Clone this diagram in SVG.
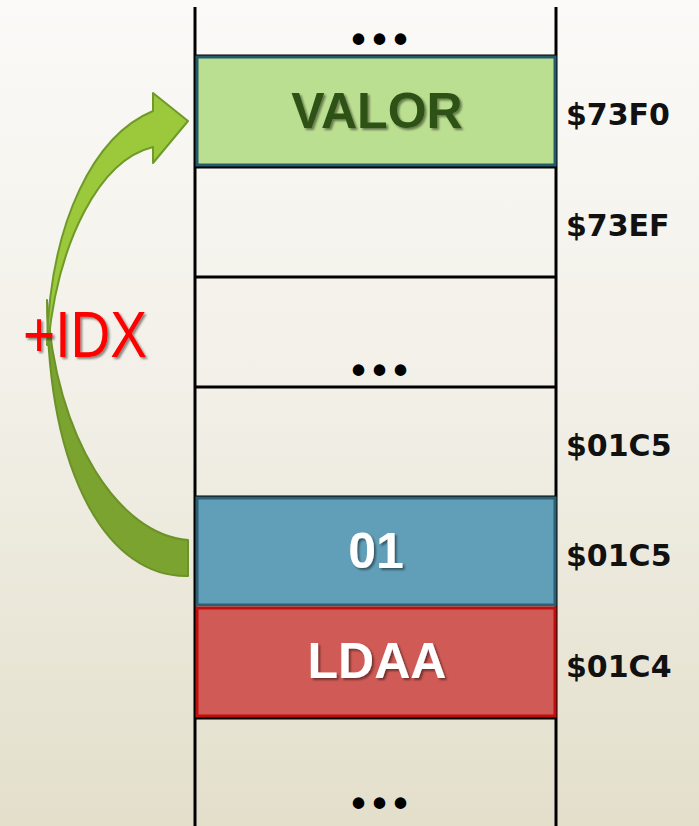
<svg xmlns="http://www.w3.org/2000/svg" width="699" height="826" viewBox="0 0 699 826">
  <defs>
    <linearGradient id="bg" x1="0" y1="0" x2="0" y2="1">
      <stop offset="0" stop-color="#fbfaf8"/>
      <stop offset="0.5" stop-color="#f1efe6"/>
      <stop offset="1" stop-color="#e3dfcb"/>
    </linearGradient>
    <filter id="shadow" x="-10%" y="-20%" width="130%" height="150%">
      <feDropShadow dx="2" dy="2" stdDeviation="1.2" flood-color="#000" flood-opacity="0.45"/>
    </filter>
    <style>
      .grid { stroke: #000; stroke-width: 3; fill: none; }
      .dots { font-family: "Liberation Sans", Arial, sans-serif; font-weight: bold; font-size: 40px; letter-spacing: 7px; fill: #000; text-anchor: middle; }
      .cell-text { font-family: "Liberation Sans", Arial, sans-serif; font-weight: bold; font-size: 50px; text-anchor: middle; filter: url(#shadow); }
      .addr { font-family: "DejaVu Sans", "Liberation Sans", sans-serif; font-weight: bold; font-size: 30px; fill: #111; }
      .arrow-front { fill: #9bc93b; stroke: #6f9a2a; stroke-width: 2; stroke-linejoin: round; }
      .arrow-back { fill: #7ba32f; stroke: #6c9228; stroke-width: 2; stroke-linejoin: round; }
      .idx { font-family: "Liberation Sans", Arial, sans-serif; font-size: 64px; fill: #ff0000; filter: url(#shadow); }
    </style>
  </defs>

  <rect width="699" height="826" fill="url(#bg)"/>

  <!-- memory column -->
  <g id="memory-column">
    <line class="grid" x1="195" y1="7" x2="195" y2="826"/>
    <line class="grid" x1="556" y1="7" x2="556" y2="826"/>
    <line class="grid" x1="195" y1="56" x2="556" y2="56"/>
    <line class="grid" x1="195" y1="167" x2="556" y2="167"/>
    <line class="grid" x1="195" y1="277" x2="556" y2="277"/>
    <line class="grid" x1="195" y1="387" x2="556" y2="387"/>
    <line class="grid" x1="195" y1="497" x2="556" y2="497"/>
    <line class="grid" x1="195" y1="718" x2="556" y2="718"/>
  </g>

  <g id="cell-top">
    <text class="dots" x="383" y="53">•••</text>
  </g>

  <g id="cell-valor">
    <rect x="197" y="57" width="358" height="108" fill="#bbdf90" stroke="#235b6b" stroke-width="3"/>
    <text class="cell-text" x="377" y="128" fill="#2f5119">VALOR</text>
  </g>

  <g id="cell-middle">
    <text class="dots" x="383" y="384">•••</text>
  </g>

  <g id="cell-operand">
    <rect x="197" y="498" width="358" height="107" fill="#619eb7" stroke="#2c5f72" stroke-width="3"/>
    <text class="cell-text" x="376" y="568" fill="#ffffff">01</text>
  </g>

  <g id="cell-opcode">
    <rect x="197" y="608" width="358" height="108" fill="#d05a55" stroke="#c00d0d" stroke-width="3"/>
    <text class="cell-text" x="377" y="678" fill="#ffffff">LDAA</text>
  </g>

  <g id="cell-bottom">
    <text class="dots" x="383" y="817">•••</text>
  </g>

  <!-- addresses -->
  <g id="addresses">
    <text class="addr" x="566" y="125">$73F0</text>
    <text class="addr" x="566" y="236">$73EF</text>
    <text class="addr" x="566" y="456">$01C5</text>
    <text class="addr" x="566" y="566">$01C5</text>
    <text class="addr" x="566" y="677">$01C4</text>
  </g>

  <!-- indexed jump arrow -->
  <g id="connectors">
    <path class="arrow-back" d="M188,576 C110,578 48,480 47,300 C55,440 120,535 188,540 Z"/>
    <path class="arrow-front" d="M47,345 C50,220 95,135 153,111 L153,93 L188,121 L153,163 L153,147 C100,160 58,240 48,345 Z"/>
    <text class="idx" x="23" y="357" textLength="124" lengthAdjust="spacingAndGlyphs">+IDX</text>
  </g>
</svg>
